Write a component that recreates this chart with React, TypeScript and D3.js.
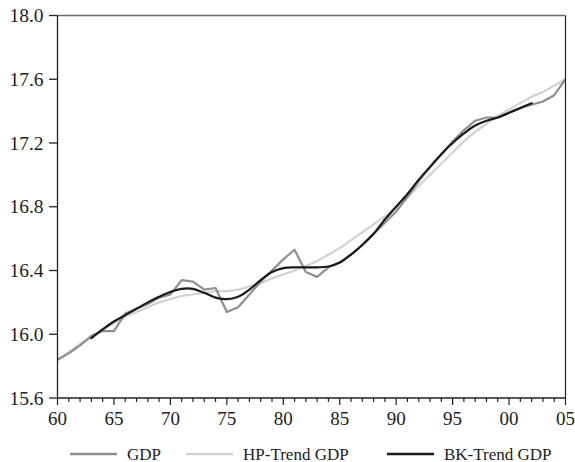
import React from "react";
import * as d3 from "d3";

const years: number[] = d3.range(1960, 2006);

const gdp: number[] = [
  15.84, 15.88, 15.93, 15.99, 16.02, 16.02, 16.13, 16.16, 16.19, 16.23,
  16.25, 16.34, 16.33, 16.28, 16.29, 16.14, 16.17, 16.25, 16.33, 16.40,
  16.47, 16.53, 16.39, 16.36, 16.42, 16.45, 16.50, 16.56, 16.63, 16.70,
  16.77, 16.86, 16.96, 17.05, 17.13, 17.21, 17.28, 17.34, 17.36, 17.36,
  17.39, 17.42, 17.44, 17.46, 17.50, 17.60,
];

const hpTrend: number[] = [
  15.84, 15.89, 15.94, 15.98, 16.03, 16.07, 16.11, 16.14, 16.17, 16.20,
  16.22, 16.24, 16.25, 16.26, 16.27, 16.27, 16.28, 16.30, 16.32, 16.35,
  16.375, 16.40, 16.43, 16.46, 16.50, 16.54, 16.59, 16.64, 16.69, 16.74,
  16.80, 16.86, 16.93, 17.00, 17.07, 17.14, 17.21, 17.27, 17.32, 17.37,
  17.41, 17.45, 17.49, 17.52, 17.56, 17.60,
];

const bkYears: number[] = d3.range(1963, 2003);
const bkTrend: number[] = [
  15.975, 16.03, 16.08, 16.12, 16.16, 16.20, 16.235, 16.265, 16.285, 16.285,
  16.26, 16.23, 16.22, 16.235, 16.28, 16.34, 16.39, 16.415, 16.42, 16.42,
  16.42, 16.425, 16.45, 16.50, 16.56, 16.63, 16.72, 16.80, 16.88, 16.97,
  17.05, 17.13, 17.20, 17.26, 17.31, 17.34, 17.36, 17.39, 17.42, 17.45,
];

const yTicks: number[] = [15.6, 16.0, 16.4, 16.8, 17.2, 17.6, 18.0];
const xMajor: number[] = [1960, 1965, 1970, 1975, 1980, 1985, 1990, 1995, 2000, 2005];

const legendItems = [
  { label: "GDP", color: "#8f8f8f" },
  { label: "HP-Trend GDP", color: "#d2d2d2" },
  { label: "BK-Trend GDP", color: "#1a1a1a" },
];

const W = 575;
const H = 462;
const L = 57.5;
const R = 565.5;
const T = 15.5;
const B = 398;

export default function App() {
  const x = d3.scaleLinear().domain([1960, 2005]).range([L, R]);
  const y = d3.scaleLinear().domain([15.6, 18.0]).range([B, T]);

  const lin = d3
    .line<[number, number]>()
    .x((d) => x(d[0]))
    .y((d) => y(d[1]));
  const smooth = d3
    .line<[number, number]>()
    .x((d) => x(d[0]))
    .y((d) => y(d[1]))
    .curve(d3.curveCatmullRom.alpha(0.5));

  const gdpPts = years.map((yr, i) => [yr, gdp[i]] as [number, number]);
  const hpPts = years.map((yr, i) => [yr, hpTrend[i]] as [number, number]);
  const bkPts = bkYears.map((yr, i) => [yr, bkTrend[i]] as [number, number]);

  const font = "'Liberation Serif', 'Times New Roman', serif";
  const legendX = [70, 186, 387];

  return (
    <svg
      width={W}
      height={H}
      style={{ position: "absolute", left: 0, top: 0, background: "#fff" }}
      fontFamily={font}
    >
      <defs>
        <clipPath id="plot">
          <rect x={L} y={T} width={R - L} height={B - T} />
        </clipPath>
      </defs>
      <g clipPath="url(#plot)" fill="none" strokeLinejoin="round" strokeLinecap="round">
        <path d={smooth(hpPts) || ""} stroke="#d2d2d2" strokeWidth={2.2} />
        <path d={lin(gdpPts) || ""} stroke="#8f8f8f" strokeWidth={2.2} />
        <path d={smooth(bkPts) || ""} stroke="#1a1a1a" strokeWidth={2.2} />
      </g>
      {/* frame */}
      <line x1={L} x2={R} y1={T} y2={T} stroke="#6a6a6a" strokeWidth={1.5} />
      <line x1={R} x2={R} y1={T} y2={B} stroke="#222" strokeWidth={1.2} />
      <line x1={L} x2={L} y1={T} y2={B} stroke="#222" strokeWidth={1.3} />
      <line x1={L} x2={R} y1={B} y2={B} stroke="#222" strokeWidth={1.3} />
      {/* y ticks */}
      {yTicks.map((v) => (
        <g key={v}>
          <line x1={L - 8.5} x2={L} y1={y(v)} y2={y(v)} stroke="#222" strokeWidth={1.3} />
          <text
            x={43.5}
            y={y(v)}
            textAnchor="end"
            dominantBaseline="central"
            fontSize={19.5}
            fill="#222"
          >
            {v.toFixed(1)}
          </text>
        </g>
      ))}
      {/* x ticks */}
      {years.map((yr) => {
        const major = yr % 5 === 0;
        return (
          <line
            key={yr}
            x1={x(yr)}
            x2={x(yr)}
            y1={B}
            y2={B + (major ? 7 : 4)}
            stroke="#222"
            strokeWidth={1.2}
          />
        );
      })}
      {xMajor.map((yr) => (
        <text
          key={yr}
          x={x(yr)}
          y={425}
          textAnchor="middle"
          fontSize={19}
          fill="#222"
        >
          {String(yr % 100).padStart(2, "0")}
        </text>
      ))}
      {/* legend */}
      {legendItems.map((it, i) => (
        <g key={it.label}>
          <line
            x1={legendX[i]}
            x2={legendX[i] + 47}
            y1={454}
            y2={454}
            stroke={it.color}
            strokeWidth={2.6}
          />
          <text x={legendX[i] + 57} y={459.5} fontSize={17} fill="#222">
            {it.label}
          </text>
        </g>
      ))}
    </svg>
  );
}
